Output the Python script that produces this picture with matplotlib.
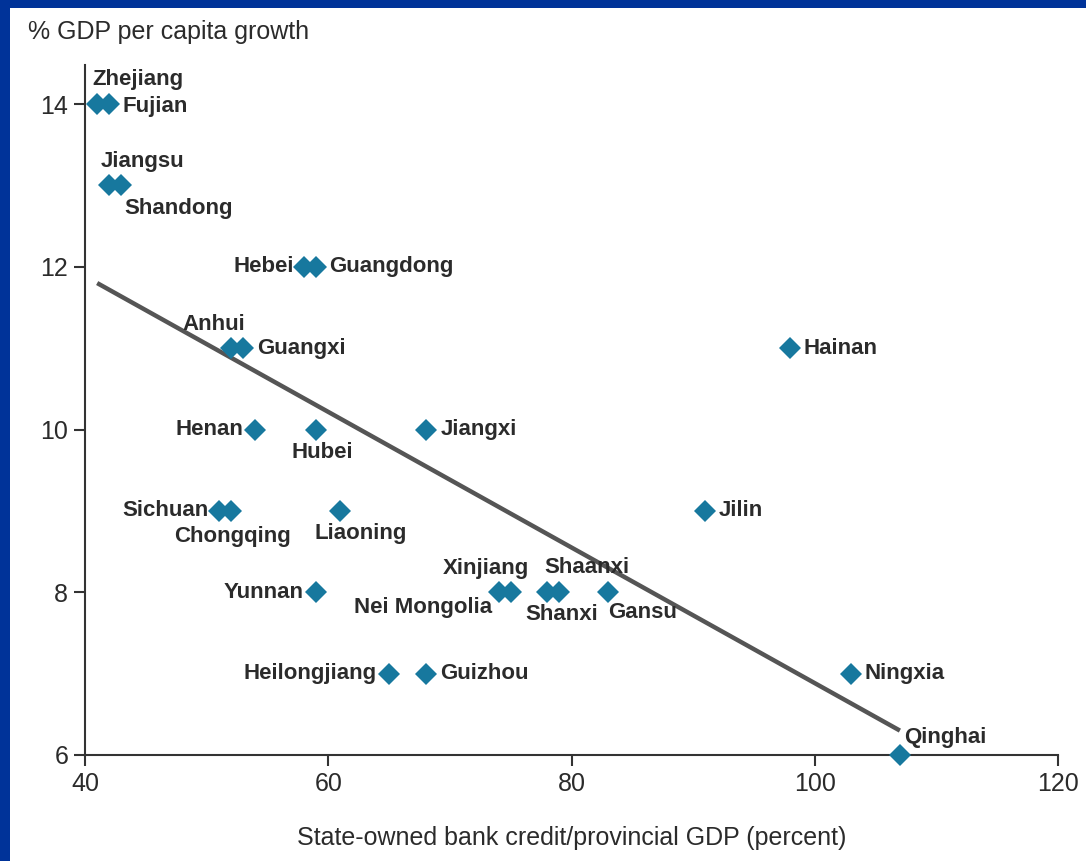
"""State-owned bank credit vs GDP per capita growth by province."""

import matplotlib

matplotlib.use("Agg")
import matplotlib.pyplot as plt
from matplotlib import font_manager
from matplotlib.patches import Rectangle

provinces = [
    "Zhejiang", "Fujian", "Jiangsu", "Shandong", "Hebei", "Guangdong",
    "Anhui", "Guangxi", "Hainan", "Henan", "Hubei", "Jiangxi",
    "Sichuan", "Chongqing", "Liaoning", "Jilin", "Yunnan", "Nei Mongolia",
    "Xinjiang", "Shanxi", "Shaanxi", "Gansu", "Heilongjiang", "Guizhou",
    "Ningxia", "Qinghai",
]
credit_pct = [
    41, 42, 42, 43, 58, 59,
    52, 53, 98, 54, 59, 68,
    51, 52, 61, 91, 59, 74,
    75, 78, 79, 83, 65, 68,
    103, 107,
]
gdp_growth = [
    14, 14, 13, 13, 12, 12,
    11, 11, 11, 10, 10, 10,
    9, 9, 9, 9, 8, 8,
    8, 8, 8, 8, 7, 7,
    7, 6,
]
fit_x = [41, 107]
fit_y = [11.8, 6.3]

x_ticks = [40, 60, 80, 100, 120]
y_ticks = [6, 8, 10, 12, 14]

# label placement: (dx, dy) in pixels, horizontal alignment
label_pos = {
    "Zhejiang": (-5, 25, "left"),
    "Fujian": (13, -2, "left"),
    "Jiangsu": (-9, 24, "left"),
    "Shandong": (3, -23, "left"),
    "Hebei": (-10, 0, "right"),
    "Guangdong": (13, 0, "left"),
    "Anhui": (-17, 24, "center"),
    "Guangxi": (14, 0, "left"),
    "Hainan": (13, 0, "left"),
    "Henan": (-12, 0, "right"),
    "Hubei": (6, -23, "center"),
    "Jiangxi": (15, 0, "left"),
    "Sichuan": (-10, 0, "right"),
    "Chongqing": (2, -26, "center"),
    "Liaoning": (20, -23, "center"),
    "Jilin": (13, 0, "left"),
    "Yunnan": (-13, 0, "right"),
    "Nei Mongolia": (-6, -15, "right"),
    "Xinjiang": (-25, 24, "center"),
    "Shanxi": (15, -22, "center"),
    "Shaanxi": (28, 25, "center"),
    "Gansu": (35, -20, "center"),
    "Heilongjiang": (-12, 0, "right"),
    "Guizhou": (15, 0, "left"),
    "Ningxia": (13, 0, "left"),
    "Qinghai": (4, 17, "left"),
}

installed = {f.name for f in font_manager.fontManager.ttflist}
FONT = [f for f in ("Liberation Sans Narrow", "Liberation Sans") if f in installed] + ["DejaVu Sans"]
TEXT_COLOR = "#2b2b2b"
MARKER_COLOR = "#17789e"

fig = plt.figure(figsize=(10.86, 8.61), dpi=100, facecolor="#003399")
fig.patches.append(
    Rectangle((10 / 1086, 0), 1 - 10 / 1086, 1 - 8 / 861,
              transform=fig.transFigure, facecolor="white", edgecolor="none", zorder=-10)
)

ax = fig.add_axes([85 / 1086, 106 / 861, 973 / 1086, 690 / 861])
ax.set_facecolor("none")

ax.plot(fit_x, fit_y, color="#555555", linewidth=3.2, solid_capstyle="butt", zorder=2)
ax.plot(credit_pct, gdp_growth, linestyle="none", marker="D", markersize=11.5,
        color=MARKER_COLOR, markeredgewidth=0, zorder=3, clip_on=False)

for name, x, y in zip(provinces, credit_pct, gdp_growth):
    dx, dy, ha = label_pos[name]
    ax.annotate(name, (x, y), xytext=(dx, dy), textcoords="offset pixels",
                ha=ha, va="center", fontsize=16, fontweight="bold",
                family=FONT, color=TEXT_COLOR, zorder=4)

ax.set_xlim(40, 120)
ax.set_ylim(6, 14.48)
ax.set_xticks(x_ticks)
ax.set_yticks(y_ticks)
ax.tick_params(axis="both", direction="out", length=8, width=1.5,
               color="#333333", labelsize=18, labelcolor=TEXT_COLOR, pad=4)
for lbl in ax.get_xticklabels() + ax.get_yticklabels():
    lbl.set_family(FONT)

for side in ("top", "right"):
    ax.spines[side].set_visible(False)
for side in ("left", "bottom"):
    ax.spines[side].set_linewidth(1.5)
    ax.spines[side].set_color("#333333")

ax.set_xlabel("State-owned bank credit/provincial GDP (percent)", fontsize=18,
              family=FONT, color=TEXT_COLOR, labelpad=22)
fig.text(28 / 1086, 1 - 32 / 861, "% GDP per capita growth", fontsize=18,
         family=FONT, color=TEXT_COLOR, ha="left", va="center")

fig.savefig("out.png", dpi=100, facecolor=fig.get_facecolor())
